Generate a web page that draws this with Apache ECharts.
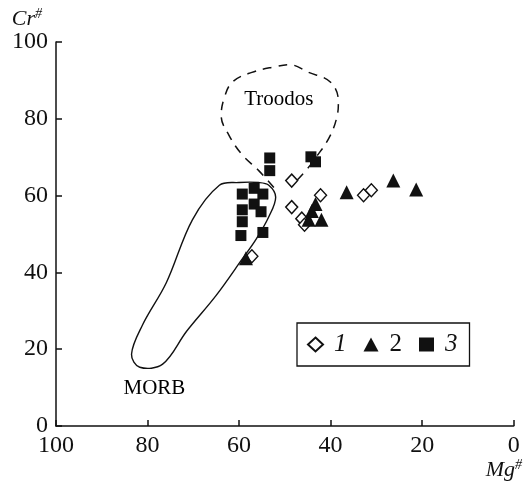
<!DOCTYPE html>
<html><head><meta charset="utf-8">
<script src="https://cdn.jsdelivr.net/npm/echarts@6/dist/echarts.min.js"></script>
<style>html,body{margin:0;padding:0;background:#fff}#c{width:525px;height:481px}</style>
</head><body><div id="c"></div>
<script>
// Axis ticks
var xTicks = [100, 80, 60, 40, 20, 0];
var yTicks = [0, 20, 40, 60, 80, 100];
// Series 1 (open diamonds): [Mg#, Cr#]
var s1 = [[48.5,63.9],[42.2,60.1],[48.5,57.0],[46.3,54.0],[45.7,52.4],[32.8,60.1],[31.1,61.4],[57.2,44.2]];
// Series 2 (filled triangles)
var s2 = [[43.3,57.8],[44.1,56.0],[44.8,53.7],[42.0,53.7],[36.5,60.9],[26.3,63.9],[21.3,61.6],[58.5,43.7]];
// Series 3 (filled squares)
var s3 = [[53.3,69.8],[53.3,66.5],[44.3,70.1],[43.3,68.8],[59.3,60.4],[56.7,61.9],[54.8,60.4],[59.3,56.3],[56.7,57.8],[55.2,55.8],[59.3,53.2],[59.6,49.6],[54.8,50.4]];
// MORB field outline (closed)
var morb = [[60,63.4],[64.3,62.7],[70.2,53.7],[75.9,37.3],[81.1,26.3],[83.5,18.7],[81.7,15.3],[76.7,16.1],[71.5,24.6],[65,34],[59.3,43.5],[56.3,48.6],[53.5,54.5],[52,59.6],[53.5,62.7],[55.7,63.4]];
// Troodos field outline (dashed, open at bottom)
var troodos = [[52.4,62.1],[55.7,66.5],[59.3,70.6],[62.2,75.7],[63.9,80.8],[63.3,85.2],[61.5,89.5],[57.2,92.1],[52,93.6],[49.1,94.1],[44.8,92.1],[40,89.5],[38.3,84.4],[38.7,80.1],[40.4,74.9],[43.3,69.8],[45.4,66.5],[47.4,63.9]];
// Field names
var fieldLabels = [{name:'Troodos', value:[51.3,85.0]},{name:'MORB', value:[78.5,9.8]}];
var legendNames = ['1','2','3'];

var serif = '"Liberation Serif","DejaVu Serif",serif';
var ink = '#111';
var chart = echarts.init(document.getElementById('c'), null, {renderer:'canvas'});
chart.setOption({
  animation:false,
  backgroundColor:'#fff',
  grid:{left:56, right:9, top:42, bottom:48},
  legend:{
    left:297, top:323, orient:'horizontal',
    data:legendNames,
    borderColor:ink, borderWidth:1.3, padding:[9,12,9,10],
    itemGap:17, itemWidth:15, itemHeight:14,
    formatter:function(n){ return n==='2' ? '{u|2}' : '{i|'+n+'}'; },
    textStyle:{fontFamily:serif, fontSize:25, color:ink, padding:[0,0,0,6],
      rich:{i:{fontFamily:serif, fontSize:25, fontStyle:'italic', color:ink}, u:{fontFamily:serif, fontSize:25, color:ink}}}
  },
  xAxis:{
    type:'value', min:0, max:100, interval:20, inverse:true,
    name:'{i|Mg}{s|#}', nameLocation:'start', nameGap:-28,
    nameTextStyle:{verticalAlign:'top', padding:[32,0,0,0],
      rich:{i:{fontFamily:serif, fontSize:22, fontStyle:'italic', color:ink}, s:{fontFamily:serif, fontSize:14, fontStyle:'italic', color:ink, verticalAlign:'top', padding:[0,0,10,0]}}},
    axisLine:{show:true, onZero:false, lineStyle:{color:ink, width:1.5}},
    axisTick:{show:true, inside:true, length:6, lineStyle:{color:ink, width:1.5}},
    axisLabel:{fontFamily:serif, fontSize:24, color:ink, margin:8},
    splitLine:{show:false}
  },
  yAxis:{
    type:'value', min:0, max:100, interval:20, position:'left',
    name:'{i|Cr}{s|#}', nameLocation:'end', nameGap:7,
    nameTextStyle:{align:'right', padding:[0,14,0,0],
      rich:{i:{fontFamily:serif, fontSize:22, fontStyle:'italic', color:ink}, s:{fontFamily:serif, fontSize:14, fontStyle:'italic', color:ink, verticalAlign:'top', padding:[0,0,10,0]}}},
    axisLine:{show:true, onZero:false, lineStyle:{color:ink, width:1.5}},
    axisTick:{show:true, inside:true, length:6, lineStyle:{color:ink, width:1.5}},
    axisLabel:{fontFamily:serif, fontSize:24, color:ink, margin:8},
    splitLine:{show:false}
  },
  series:[
    {type:'custom', name:'MORB', silent:true, data:[0],
      renderItem:function(params, api){
        var pts = morb.map(function(p){ return api.coord(p); });
        return {type:'polygon', shape:{points:pts, smooth:0.35}, style:{fill:null, stroke:ink, lineWidth:1.4}};
      }, z:1},
    {type:'line', name:'Troodos', data:troodos, smooth:0.4, showSymbol:false, symbol:'none', silent:true,
      lineStyle:{color:ink, width:1.5, type:[9,7]}, z:1},
    {type:'scatter', name:'fieldnames', data:fieldLabels, symbolSize:0, silent:true,
      itemStyle:{color:ink},
      label:{show:true, position:'inside', formatter:'{b}', fontFamily:serif, fontSize:21, color:'#000', textBorderWidth:0, opacity:1}},
    {type:'scatter', name:'1', data:s1, symbol:'diamond', symbolSize:[12,13],
      itemStyle:{color:'#fff', borderColor:ink, borderWidth:1.4, opacity:1}, z:3},
    {type:'scatter', name:'2', data:s2, symbol:'triangle', symbolSize:[14,14],
      itemStyle:{color:ink, opacity:1}, z:4},
    {type:'scatter', name:'3', data:s3, symbol:'rect', symbolSize:11,
      itemStyle:{color:ink, opacity:1}, z:5}
  ]
});
</script></body></html>
